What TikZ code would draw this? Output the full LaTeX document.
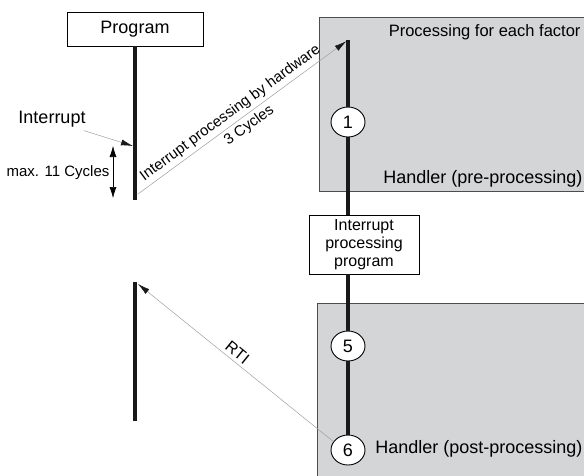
\documentclass[tikz,border=0pt]{standalone}
\usepackage{fontspec}
\setmainfont{Liberation Sans}
\usetikzlibrary{positioning,arrows.meta,shapes.geometric}
\definecolor{handlergray}{HTML}{D4D5D7}
\definecolor{framegray}{HTML}{4D4D4D}
\definecolor{leadgray}{HTML}{A0A0A0}

\begin{document}
\begin{tikzpicture}[x=1pt, y=-1pt,
  bigfont/.style={font=\fontsize{18}{20}\selectfont},
  midfont/.style={font=\fontsize{16}{18}\selectfont},
  smallfont/.style={font=\fontsize{15}{17}\selectfont},
  flowline/.style={line width=4.7pt, black!90},
  lead/.style={leadgray, line width=0.5pt, -{Latex[length=12pt,width=6pt,black!90]}},
  leadback/.style={leadgray, line width=0.5pt, {Latex[length=12pt,width=6pt,black!90]}-},
  stepnum/.style={ellipse, draw, line width=0.9pt, fill=white, minimum width=34pt,
    minimum height=30pt, inner sep=0pt, bigfont},
  plainbox/.style={draw, fill=white, line width=0.8pt},
  handlerbox/.style={draw=framegray, fill=handlergray, line width=0.8pt}]
\clip (0,0) rectangle (584,475);
\draw[handlerbox] (319,17) rectangle (600,191);
\draw[handlerbox] (317,303) rectangle (600,490);
\node[smallfont, font=\fontsize{16.5}{18}\selectfont, anchor=base east] (factor) at (584,36) {Processing for each factor};
\node[bigfont, anchor=base east] (preh) at (586,183) {Handler (pre-processing)};
\node[bigfont, anchor=base east] (posth) at (586,453) {Handler (post-processing)};

\node[plainbox, bigfont, minimum width=136pt, minimum height=34pt] (prog) at (135,29) {Program};
\coordinate (progEnd) at (135,200);
\draw[flowline] (prog.south) -- (progEnd);

\node[bigfont] (intr) at (52,119) {Interrupt};
\coordinate (intrHit) at (133,146);
\draw[lead] (intr.-20) -- (intrHit);

\node[smallfont] (maxcyc) at (58,173) {max. 11 Cycles};
\coordinate (cycTop) at (113,146);
\coordinate (cycBot) at (113,198);
\draw[line width=0.6pt, {Latex[length=11pt,width=7pt]}-{Latex[length=11pt,width=7pt]}] (cycTop) -- (cycBot);

\coordinate (hwEntry) at (348,40);
\node[stepnum] (s1) at (348,122) {1};
\node[plainbox, midfont, align=center, minimum width=110pt, minimum height=59pt, inner sep=1pt] (ipp) at (364,244.5) {Interrupt\\processing\\program};
\node[stepnum] (s5) at (348,346) {5};
\node[stepnum] (s6) at (348,450) {6};
\draw[flowline] (hwEntry) -- (s1);
\draw[flowline] (s1) -- (s1 |- ipp.north);
\draw[flowline] (s5 |- ipp.south) -- (s5);
\draw[flowline] (s5) -- (s6);

\coordinate (hwStart) at (138,194);
\draw[lead, shorten >=2pt] (hwStart) -- (hwEntry)
  node[pos=0.47, sloped, above, smallfont, text=black] {Interrupt processing by hardware}
  node[pos=0.5, sloped, below, smallfont, text=black] {3 Cycles};

\coordinate (retTop) at (135,282);
\coordinate (retBot) at (135,421);
\draw[flowline] (retTop) -- (retBot);
\coordinate (retHit) at (138,284);
\draw[leadback] (retHit) -- (s6.150)
  node[pos=0.48, sloped, above, font=\fontsize{16}{18}\selectfont, text=black] {RTI};
\end{tikzpicture}
\end{document}
